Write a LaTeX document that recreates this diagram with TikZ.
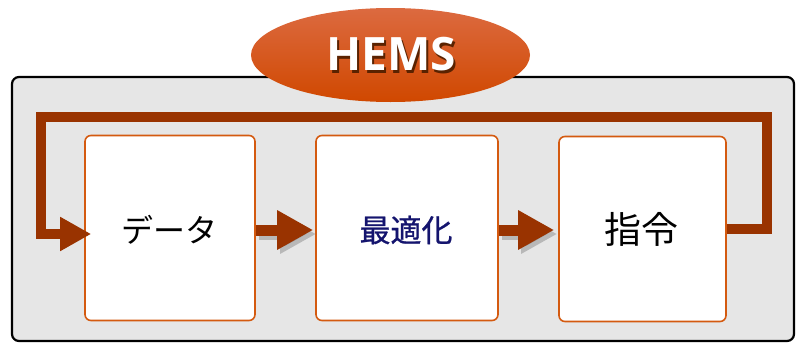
\documentclass[tikz,border=0pt]{standalone}
\usepackage{fontspec}
\setmainfont{Open Sans}
\newfontfamily\cjk{Noto Sans CJK JP}
\newfontfamily\cjkb{Noto Sans CJK JP}[FakeBold=0.8]
\usetikzlibrary{arrows.meta,shadows,calc,shapes.geometric}
\definecolor{loopc}{HTML}{993300}
\definecolor{boxc}{HTML}{D45A10}
\definecolor{panelc}{HTML}{E6E6E6}
\definecolor{navyc}{HTML}{14146E}
\definecolor{elltop}{HTML}{DC6A40}
\definecolor{ellbot}{HTML}{D04800}
\definecolor{shadowc}{HTML}{5A2200}
\tikzset{
  panelbox/.style={draw=black, line width=2.2pt, fill=panelc, rounded corners=7pt,
    minimum width=782pt, minimum height=264pt, inner sep=0pt},
  stepbox/.style={draw=boxc, line width=1.6pt, fill=white, rounded corners=6pt,
    minimum height=185pt, inner sep=0pt},
  hemsell/.style={ellipse, minimum width=279pt, minimum height=94pt, inner sep=0pt,
    top color=elltop, bottom color=ellbot, draw=none},
  flowarr/.style={draw=loopc, line width=11pt, -{Triangle[length=36pt,width=37pt]}, fill=loopc},
  flowshadow/.style={draw=black!45, opacity=0.5, line width=11pt, -{Triangle[length=36pt,width=37pt]}},
  looparr/.style={draw=loopc, line width=10pt, line join=miter, -{Triangle[length=31pt,width=32pt]}},
  lbl/.style={font=\cjk\fontsize{32}{34}\selectfont, text=black},
}
\begin{document}
\begin{tikzpicture}[x=1pt,y=-1pt]
\useasboundingbox (0,0) rectangle (796,343);
\node[panelbox] (panel) at (403,209) {};
\node[hemsell] (hems) at (390.5,55) {};
\node[font=\fontsize{46}{48}\selectfont\bfseries, text=white] (hemstext) at (391,56)
  {\rlap{\kern2.5pt\raisebox{-3pt}{\color{shadowc}HEMS}}HEMS};

\node[stepbox, minimum width=170pt] (box1) at (170,228) {};
\node[stepbox, minimum width=182pt] (box2) at (407,228) {};
\node[stepbox, minimum width=167pt] (box3) at (642.5,229) {};

\node[lbl] (t1) at (169,230) {データ};
\node[lbl, text=navyc, font=\cjkb\fontsize{31}{33}\selectfont] (t2) at (406,230) {最適化};
\node[lbl, font=\cjk\fontsize{37}{39}\selectfont] (t3) at (641.5,229) {指令};

% loop
\coordinate (r1) at (767,229);
\coordinate (r2) at (767,117);
\coordinate (l1) at (41,117);
\coordinate (l2) at (41,234);
\coordinate (ltip) at ($(box1.west)+(7,6)$);
\draw[looparr] (box3.east) -- (r1) -- (r2) -- (l1) -- (l2) -- (ltip);

% arrows with shadow
\coordinate (a1s) at ($(box1.east)+(0,2)$);
\coordinate (a1e) at ($(box2.west)+(-2,2)$);
\coordinate (a2s) at ($(box2.east)+(0,2)$);
\coordinate (a2e) at ($(box3.west)+(-4,1)$);
\draw[flowshadow, transform canvas={xshift=3pt,yshift=-4pt}] (a1s) -- (a1e);
\draw[flowshadow, transform canvas={xshift=3pt,yshift=-4pt}] (a2s) -- (a2e);
\draw[flowarr] (a1s) -- (a1e);
\draw[flowarr] (a2s) -- (a2e);
\end{tikzpicture}
\end{document}
